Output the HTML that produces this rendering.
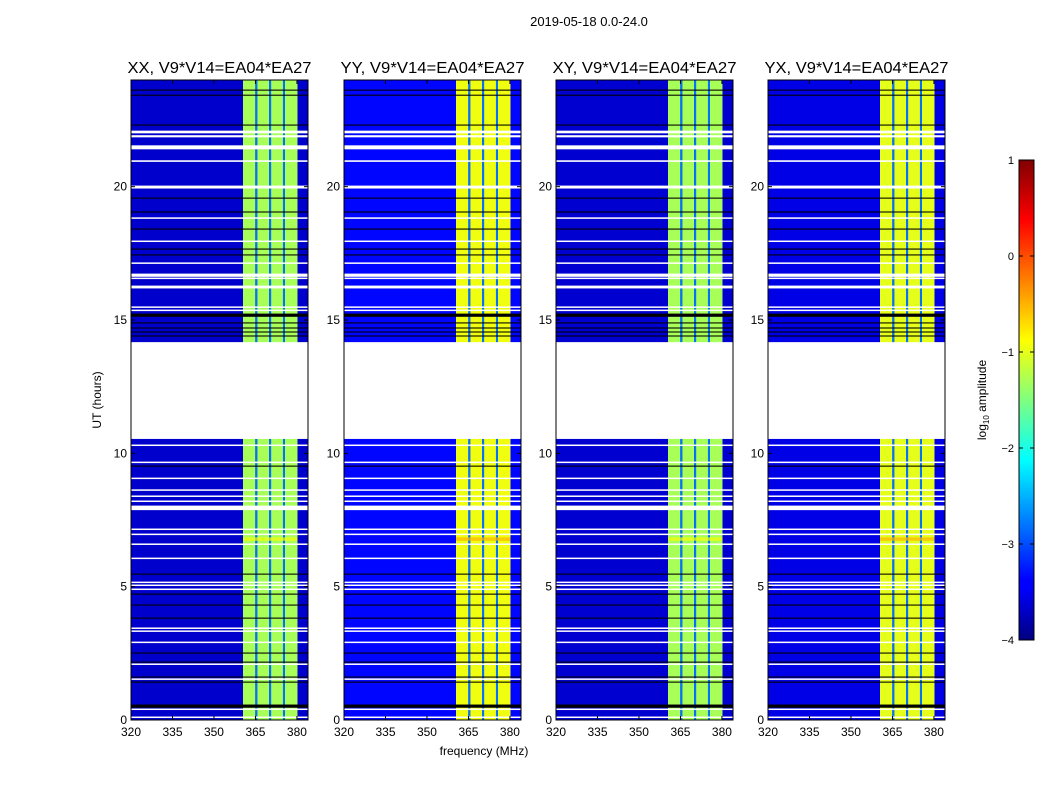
<!DOCTYPE html>
<html><head><meta charset="utf-8">
<style>
html,body{margin:0;padding:0;background:#fff;}
svg{display:block;font-family:"Liberation Sans",sans-serif;}
</style></head>
<body>
<svg id="fig" width="1050" height="800" viewBox="0 0 1050 800" xmlns="http://www.w3.org/2000/svg">
<defs>
<linearGradient id="jet" x1="0" y1="1" x2="0" y2="0">
<stop offset="0" stop-color="#000080"/><stop offset="0.11" stop-color="#0000ff"/>
<stop offset="0.125" stop-color="#0000ff"/><stop offset="0.375" stop-color="#00ffff"/>
<stop offset="0.625" stop-color="#ffff00"/><stop offset="0.875" stop-color="#ff0000"/>
<stop offset="1" stop-color="#800000"/></linearGradient>
</defs>
<text x="589" y="26" font-size="13" text-anchor="middle">2019-05-18 0.0-24.0</text>
<g id="panels"></g>
<g id="cbar"></g>
<text x="484" y="755" font-size="12" text-anchor="middle">frequency (MHz)</text>
<text transform="translate(101,400) rotate(-90)" font-size="12" text-anchor="middle">UT (hours)</text>
</svg>
<script>
const panelNames = ["XX","YY","XY","YX"];
const baselineLabel = ", V9*V14=EA04*EA27";
const bgLevels = [-3.62, -3.35, -3.6, -3.5];
const bandLevels = [-1.3, -0.95, -1.3, -1.0];
const sepLevel = -2.8;
const bandEdges = [360.5, 365.3, 370.3, 375.3, 380.2];
const orangeRow = [6.72, 6.85];
const orangeLevel = -0.5;
const xTicks = [320, 335, 350, 365, 380];
const yTicks = [0, 5, 10, 15, 20];
const cbarTicks = [1, 0, -1, -2, -3, -4];
const whiteGaps = [[22.0,22.1],[21.85,21.93],[21.4,21.55],[20.93,20.99],[19.93,20.04],[18.8,18.85],[17.94,17.98],[17.12,17.16],[16.62,16.74],[16.55,16.59],[16.25,16.29],[16.21,16.24],[15.47,15.51],[15.35,15.39],[14.1,14.17],[10.54,14.1],[10.29,10.33],[9.65,9.69],[9.05,9.09],[8.6,8.65],[8.38,8.42],[8.19,8.23],[7.87,8.04],[7.14,7.18],[6.95,6.99],[6.58,6.62],[6.05,6.09],[5.15,5.19],[5.04,5.08],[4.89,4.93],[3.43,3.47],[3.32,3.36],[2.9,2.94],[2.08,2.12],[1.52,1.56],[0.39,0.43],[0.09,0.13]];
const flagLines = [[23.6,23.64],[23.41,23.45],[22.29,22.33],[19.55,19.59],[19.03,19.07],[18.39,18.43],[17.64,17.68],[17.42,17.46],[15.12,15.24],[14.87,14.91],[14.68,14.72],[14.53,14.57],[14.38,14.42],[9.5,9.54],[5.45,5.49],[4.7,4.74],[4.29,4.33],[3.8,3.84],[2.49,2.53],[2.15,2.19],[1.59,1.63],[1.4,1.44],[0.46,0.58]];

const NS="http://www.w3.org/2000/svg";
const fMin=320,fMax=384,tMin=0,tMax=24;
const panelX=[131,344,556,768], pW=177, pTop=80, pBot=720;
function clamp(v){return Math.max(0,Math.min(1,v));}
function jet(level){const t=(level+4)/5;
 const r=clamp(Math.min(4*t-1.5,-4*t+4.5)),g=clamp(Math.min(4*t-0.5,-4*t+3.5)),b=clamp(Math.min(4*t+0.5,-4*t+2.5));
 return `rgb(${Math.round(r*255)},${Math.round(g*255)},${Math.round(b*255)})`;}
function mk(tag,attrs,parent){const e=document.createElementNS(NS,tag);for(const k in attrs)e.setAttribute(k,attrs[k]);parent.appendChild(e);return e;}
const root=document.getElementById('panels');
panelNames.forEach((nm,i)=>{
 const x0=panelX[i];
 const xs=f=>x0+(f-fMin)/(fMax-fMin)*pW;
 const ys=t=>pBot-(t-tMin)/(tMax-tMin)*(pBot-pTop);
 const g=mk('g',{},root);
 
 
 const bg=mk('rect',{x:x0,y:pTop,width:pW,height:pBot-pTop,fill:jet(bgLevels[i])},g);
 
 
 for(let k=0;k<bandEdges.length-1;k++){
  const a=bandEdges[k]+(k>0?0.35:0), b=bandEdges[k+1]-(k<3?0.35:0);
  const r=mk('rect',{x:xs(a),y:pTop,width:xs(b)-xs(a),height:pBot-pTop,fill:jet(bandLevels[i])},g);
  
  
  if(k>0){const s=mk('rect',{x:xs(bandEdges[k]-0.35),y:pTop,width:xs(bandEdges[k]+0.35)-xs(bandEdges[k]-0.35),height:pBot-pTop,fill:jet(sepLevel)},g);
   
   }
 }
 const o=mk('rect',{x:xs(bandEdges[0]),y:ys(orangeRow[1]),width:xs(bandEdges[4])-xs(bandEdges[0]),height:ys(orangeRow[0])-ys(orangeRow[1]),fill:jet(orangeLevel+(i%2?0:-0.4)),opacity:0.7},g);
 
 
 flagLines.forEach(fl=>{const r=mk('rect',{x:x0,y:ys(fl[1]),width:pW,height:Math.max(1,ys(fl[0])-ys(fl[1])),fill:'#000'},g);
  
  });
 whiteGaps.forEach(w=>{const r=mk('rect',{x:x0,y:ys(w[1]),width:pW,height:Math.max(1.5,ys(w[0])-ys(w[1])),fill:'#fff'},g);
  
  });
 const fr=mk('rect',{x:x0,y:pTop,width:pW,height:pBot-pTop,fill:'none',stroke:'#000','stroke-width':1},g);
 
 
 xTicks.forEach(t=>{const X=xs(t);
  mk('line',{x1:X,x2:X,y1:pBot,y2:pBot-4,stroke:'#000'},g);
  mk('line',{x1:X,x2:X,y1:pTop,y2:pTop+4,stroke:'#000'},g);
  const tx=mk('text',{x:X,y:pBot+16,'font-size':12,'text-anchor':'middle'},g);tx.textContent=t;
  
  });
 yTicks.forEach(t=>{const Y=ys(t);
  mk('line',{x1:x0,x2:x0+4,y1:Y,y2:Y,stroke:'#000'},g);
  mk('line',{x1:x0+pW,x2:x0+pW-4,y1:Y,y2:Y,stroke:'#000'},g);
  const tx=mk('text',{x:x0-4,y:Y+4,'font-size':12,'text-anchor':'end'},g);tx.textContent=t;
  
  });
 const tt=mk('text',{x:x0+pW/2,y:73,'font-size':16,'text-anchor':'middle',textLength:184,lengthAdjust:'spacingAndGlyphs'},g);tt.textContent=nm+baselineLabel;
 
 
});
const cb=document.getElementById('cbar');
const cbX=1019,cbW=15,cbT=160,cbB=640,cMin=-4,cMax=1;
const cr=mk('rect',{x:cbX,y:cbT,width:cbW,height:cbB-cbT,fill:'url(#jet)',stroke:'#000'},cb);


cbarTicks.forEach(v=>{const Y=cbB-(v-cMin)/(cMax-cMin)*(cbB-cbT);
 mk('line',{x1:cbX,x2:cbX+4,y1:Y,y2:Y,stroke:'#000'},cb);
 mk('line',{x1:cbX+cbW,x2:cbX+cbW-4,y1:Y,y2:Y,stroke:'#000'},cb);
 const t=mk('text',{x:cbX-5,y:Y+4,'font-size':11,'text-anchor':'end'},cb);t.textContent=v<0?'\u2212'+(-v):v;
 
 });
const cl=mk('text',{transform:'translate(986,400) rotate(-90)','font-size':12,'text-anchor':'middle'},cb);
cl.innerHTML='log<tspan font-size="8" dy="3">10</tspan><tspan dy="-3"> amplitude</tspan>';


</script>
</body></html>
